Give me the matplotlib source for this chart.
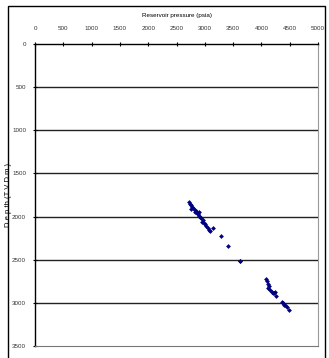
import matplotlib
matplotlib.use("Agg")
import matplotlib.pyplot as plt
from matplotlib.patches import Rectangle

# reservoir pressure (psia) vs depth (TVD m)
pressure = [2720, 2730, 2750, 2770, 2760, 2800, 2820, 2850, 2830, 2870,
            2880, 2900, 2890, 2920, 2940, 2960, 2950, 2980, 3000, 3020,
            3050, 3070, 3090, 3145, 3290, 3410, 3620, 3625,
            4080, 4100, 4110, 4130, 4120, 4150, 4180, 4200, 4230, 4260,
            4240, 4365, 4380, 4400, 4420, 4450, 4490]
depth = [1830, 1850, 1870, 1890, 1910, 1900, 1920, 1935, 1950, 1960,
         1975, 1990, 1945, 2005, 2020, 2040, 2060, 2070, 2090, 2110,
         2130, 2150, 2165, 2130, 2225, 2340, 2510, 2520,
         2725, 2750, 2780, 2800, 2830, 2850, 2870, 2880, 2890, 2920,
         2870, 2990, 3000, 3020, 3030, 3050, 3080]

x_ticks = [0, 500, 1000, 1500, 2000, 2500, 3000, 3500, 4000, 4500, 5000]
y_ticks = [0, 500, 1000, 1500, 2000, 2500, 3000, 3500]

plt.rcParams["font.family"] = ["Liberation Sans", "DejaVu Sans"]
fig = plt.figure(figsize=(3.29, 3.58), dpi=100)
fig.patches.append(Rectangle((8 / 329, -0.02), 317 / 329, 1 - 6 / 358 + 0.02,
                             transform=fig.transFigure, fill=False,
                             edgecolor="black", linewidth=1.0))

ax = fig.add_axes([35 / 329, 1 - 346 / 358, 283 / 329, 302 / 358])
ax.scatter(pressure, depth, marker="D", s=6, color="#000080", linewidths=0, zorder=3)

ax.set_xlim(0, 5000)
ax.set_ylim(3500, 0)
ax.set_xticks(x_ticks)
ax.set_yticks(y_ticks)
ax.xaxis.tick_top()
ax.xaxis.set_label_position("top")
ax.tick_params(axis="both", labelsize=4.5, length=3, width=0.8, direction="inout",
               colors="black", labelcolor="#333333", pad=5)
ax.tick_params(axis="x", pad=8)
ax.set_xlabel("Reservoir pressure (psia)", fontsize=4.5, labelpad=6)
ax.set_ylabel("D e p th (T V D m )", fontsize=5.5)
ax.yaxis.set_label_coords(-0.082, 0.5)

for yy in y_ticks[1:-1]:
    ax.axhline(yy, color="#222222", linewidth=1.0, zorder=1)

ax.spines["left"].set_color("black")
ax.spines["left"].set_linewidth(1.0)
ax.spines["top"].set_color("black")
ax.spines["top"].set_linewidth(1.0)
ax.spines["right"].set_color("#999999")
ax.spines["bottom"].set_color("#777777")

fig.savefig("out.png", dpi=100)
